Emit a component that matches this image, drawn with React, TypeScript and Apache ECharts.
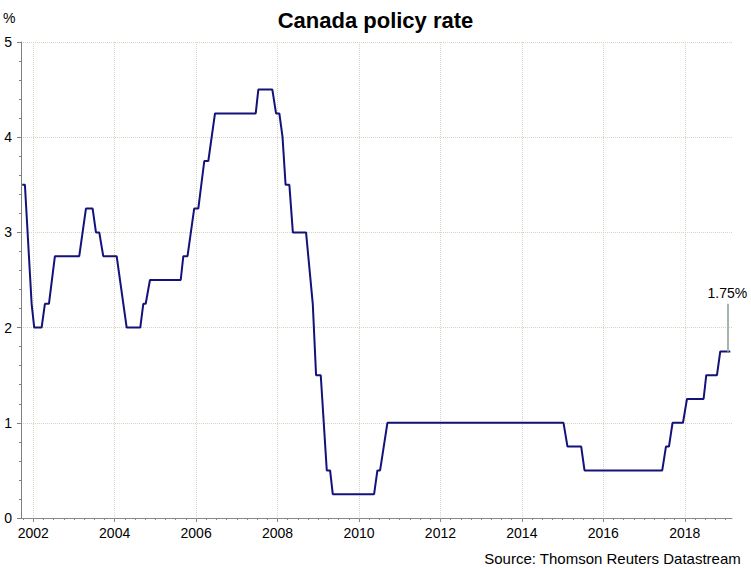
import { useEffect, useRef } from "react";
import * as echarts from "echarts";

const TITLE = "Canada policy rate";
const SOURCE = "Source: Thomson Reuters Datastream";
const UNIT = "%";

// vertices of the rate line (decimal years)
const DATES = [
  2001.730, 2001.796, 2001.961, 2002.025, 2002.206, 2002.287, 2002.386, 2002.533,
  2003.130, 2003.295, 2003.459, 2003.541, 2003.622, 2003.720, 2004.049, 2004.295,
  2004.629, 2004.703, 2004.762, 2004.867, 2005.622, 2005.686, 2005.789, 2005.953,
  2006.054, 2006.201, 2006.300, 2006.464, 2007.464, 2007.528, 2007.872, 2007.963,
  2008.044, 2008.123, 2008.197, 2008.290, 2008.376, 2008.700, 2008.865, 2008.946,
  2009.061, 2009.209, 2009.290, 2009.356, 2010.371, 2010.452, 2010.518, 2010.698,
  2015.022, 2015.120, 2015.457, 2015.538, 2017.447, 2017.538, 2017.612, 2017.700,
  2017.956, 2018.054, 2018.462, 2018.528, 2018.791, 2018.872, 2019.118,
];
const RATES = [
  3.5, 3.5, 2.25, 2.0, 2.0, 2.25, 2.25, 2.75,
  2.75, 3.25, 3.25, 3.0, 3.0, 2.75, 2.75, 2.0,
  2.0, 2.25, 2.25, 2.5, 2.5, 2.75, 2.75, 3.25,
  3.25, 3.75, 3.75, 4.25, 4.25, 4.5, 4.5, 4.25,
  4.25, 4.0, 3.5, 3.5, 3.0, 3.0, 2.25, 1.5,
  1.5, 0.5, 0.5, 0.25, 0.25, 0.5, 0.5, 1.0,
  1.0, 0.75, 0.75, 0.5, 0.5, 0.75, 0.75, 1.0,
  1.0, 1.25, 1.25, 1.5, 1.5, 1.75, 1.75,
];

const YEAR_LABELS = [2002, 2004, 2006, 2008, 2010, 2012, 2014, 2016, 2018];
const X_MIN = 2001.70;
const X_MAX = 2019.16;
const ANNOT_X = 2019.045;
const ANNOT_LEN = 0.5;

const FONT = "'Liberation Sans', Arial, sans-serif";

export default function App() {
  const ref = useRef<HTMLDivElement>(null);
  useEffect(() => {
    const chart = echarts.init(ref.current!, null, { renderer: "svg" });
    const data = DATES.map((d, i) => [d, RATES[i]]);
    const last = RATES[RATES.length - 1];
    const quarterTicks: number[] = [];
    for (let q = 2001.75; q <= 2019.0001; q += 0.25) quarterTicks.push(Math.round(q * 100) / 100);
    const grid = "#d6d6bc";
    chart.setOption({
      animation: false,
      backgroundColor: "#ffffff",
      title: {
        text: TITLE,
        left: "center",
        top: 4,
        textStyle: { fontFamily: FONT, fontSize: 22, fontWeight: "bold", color: "#000" },
      },
      grid: { left: 21, right: 19, top: 42, bottom: 50 },
      xAxis: [
        {
          type: "value",
          min: X_MIN,
          max: X_MAX,
          position: "bottom",
          axisLine: { show: true, lineStyle: { color: "#8a8a84", width: 1 } },
          axisTick: { show: true, length: 4, customValues: YEAR_LABELS, lineStyle: { color: "#8a8a84" } },
          axisLabel: {
            show: true,
            customValues: YEAR_LABELS,
            margin: 8,
            fontFamily: FONT,
            fontSize: 14,
            color: "#000",
            formatter: (v: number) => String(Math.round(v)),
          },
          splitLine: { show: true, lineStyle: { color: grid, type: "dotted", width: 1 } },
        },
        {
          type: "value",
          min: X_MIN,
          max: X_MAX,
          position: "bottom",
          offset: 0,
          axisLine: { show: false },
          axisTick: { show: true, length: 2, customValues: quarterTicks, lineStyle: { color: "#8a8a84" } },
          axisLabel: { show: false },
          splitLine: { show: false },
        },
      ],
      yAxis: {
        type: "value",
        min: 0,
        max: 5,
        interval: 1,
        axisLine: { show: true, lineStyle: { color: "#808080", width: 1 } },
        axisTick: { show: true, length: 4, lineStyle: { color: "#808080" } },
        minorTick: { show: true, splitNumber: 5, length: 2, lineStyle: { color: "#808080" } },
        axisLabel: { margin: 9, fontFamily: FONT, fontSize: 14, color: "#000" },
        splitLine: { show: true, lineStyle: { color: grid, type: "dotted", width: 1 } },
      },
      graphic: [
        {
          type: "text",
          left: 3,
          top: 11,
          style: { text: UNIT, font: `14px ${FONT}`, fill: "#000" },
        },
        {
          type: "text",
          right: 10,
          top: 551,
          style: { text: SOURCE, font: `15px ${FONT}`, fill: "#000" },
        },
      ],
      series: [
        {
          type: "line",
          xAxisIndex: 0,
          data,
          symbol: "none",
          showSymbol: false,
          lineStyle: { color: "#12127a", width: 2 },
          markLine: {
            silent: true,
            symbol: "none",
            lineStyle: { color: "#a8b4ac", width: 2, type: "solid" },
            label: {
              show: true,
              position: "end",
              distance: 4,
              formatter: `${last.toFixed(2)}%`,
              fontFamily: FONT,
              fontSize: 14,
              color: "#000",
            },
            data: [[{ coord: [ANNOT_X, last] }, { coord: [ANNOT_X, last + ANNOT_LEN] }]],
          },
        },
      ],
    });
    return () => chart.dispose();
  }, []);
  return (
    <div
      ref={ref}
      style={{ position: "absolute", left: 0, top: 0, width: 751, height: 568 }}
    />
  );
}
